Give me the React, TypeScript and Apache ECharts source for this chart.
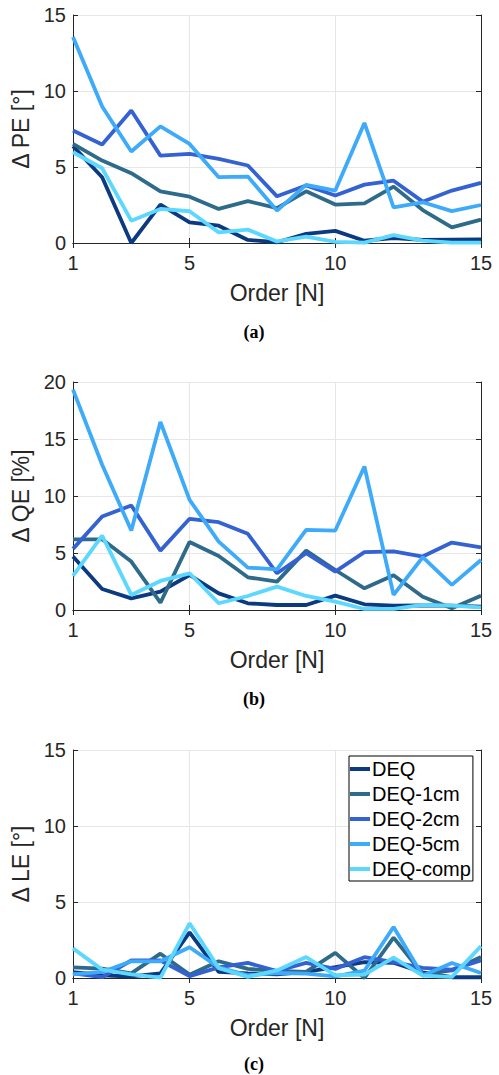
import React, { useEffect, useRef } from "react";
import * as echarts from "echarts";

const orders = ["1", "2", "3", "4", "5", "6", "7", "8", "9", "10", "11", "12", "13", "14", "15"];
const seriesNames = ["DEQ", "DEQ-1cm", "DEQ-2cm", "DEQ-5cm", "DEQ-comp"];
const seriesColors = ["#0B3A80", "#2E6A8A", "#3462D2", "#3DAAFA", "#5CD8FF"];
const labelIdx = [0, 4, 9, 14];
const gridIdx = [4, 9];

const peDEQ = [6.37, 4.33, 0.0, 2.53, 1.36, 1.14, 0.2, 0.05, 0.6, 0.8, 0.15, 0.33, 0.2, 0.22, 0.24];
const pe1cm = [6.52, 5.42, 4.59, 3.4, 3.05, 2.24, 2.75, 2.3, 3.4, 2.53, 2.61, 3.71, 2.17, 1.03, 1.54];
const pe2cm = [7.4, 6.48, 8.72, 5.75, 5.86, 5.53, 5.1, 3.07, 3.78, 3.12, 3.84, 4.1, 2.72, 3.45, 3.95];
const pe5cm = [13.55, 8.98, 6.02, 7.67, 6.52, 4.33, 4.37, 2.13, 3.82, 3.45, 7.9, 2.35, 2.68, 2.1, 2.5];
const peComp = [5.97, 4.92, 1.47, 2.24, 2.09, 0.7, 0.88, 0.1, 0.42, 0.08, 0.02, 0.52, 0.15, 0.02, 0.02];

const qeDEQ = [4.69, 1.84, 1.02, 1.61, 3.07, 1.46, 0.59, 0.44, 0.44, 1.26, 0.5, 0.38, 0.41, 0.38, 0.29];
const qe1cm = [6.2, 6.2, 4.25, 0.64, 5.97, 4.74, 2.87, 2.49, 5.21, 3.51, 1.9, 3.05, 1.17, 0.15, 1.26];
const qe2cm = [5.36, 8.2, 9.17, 5.21, 8.0, 7.7, 6.68, 3.22, 4.98, 3.37, 5.07, 5.15, 4.69, 5.92, 5.5];
const qe5cm = [19.33, 12.74, 6.97, 16.49, 9.66, 6.0, 3.72, 3.57, 7.03, 6.97, 12.59, 1.32, 4.63, 2.2, 4.39];
const qeComp = [2.99, 6.53, 1.32, 2.55, 3.22, 0.59, 1.23, 2.05, 1.23, 0.73, 0.09, 0.09, 0.44, 0.38, 0.23];

const leDEQ = [0.38, 0.18, 0.1, 0.3, 3.0, 0.4, 0.3, 0.24, 0.4, 0.72, 1.05, 1.0, 0.37, 0.05, 0.05];
const le1cm = [0.7, 0.62, 0.3, 1.6, 0.22, 1.1, 0.6, 0.46, 0.4, 1.65, 0.0, 2.66, 0.26, 0.5, 1.38];
const le2cm = [0.3, 0.05, 1.15, 1.15, 0.12, 0.7, 0.99, 0.46, 0.99, 0.6, 1.37, 1.05, 0.66, 0.55, 1.15];
const le5cm = [0.24, 0.4, 1.1, 1.1, 2.02, 0.7, 0.18, 0.33, 0.29, 0.1, 0.48, 3.36, 0.15, 0.99, 0.33];
const leComp = [1.95, 0.55, 0.24, 0.02, 3.6, 0.65, 0.07, 0.5, 1.38, 0.18, 0.22, 1.34, 0.15, 0.07, 2.1];

const yTitles = ["\u0394 PE [\u00B0]", "\u0394 QE [%]", "\u0394 LE [\u00B0]"];
const yMaxes = [15, 20, 15];
const captions = ["(a)", "(b)", "(c)"];
const panelData = [
  [peDEQ, pe1cm, pe2cm, pe5cm, peComp],
  [qeDEQ, qe1cm, qe2cm, qe5cm, qeComp],
  [leDEQ, le1cm, le2cm, le5cm, leComp],
];

const FONT = "Liberation Sans";
const AX = "#262626";
const GRIDC = "#e6e6e6";
const panelTops = [15, 382, 750];
const panelH = 228;
const captionY = [332, 699, 1064];

export default function App() {
  const ref = useRef<HTMLDivElement>(null);
  useEffect(() => {
    document.body.style.margin = "0";
    if (!ref.current) return;
    const chart = echarts.init(ref.current, undefined, { renderer: "svg" });
    const grids: any[] = [];
    const xAxes: any[] = [];
    const yAxes: any[] = [];
    const series: any[] = [];
    const graphics: any[] = [];
    for (let p = 0; p < 3; p++) {
      grids.push({ left: 73, top: panelTops[p], width: 408, height: panelH, containLabel: false });
      xAxes.push({
        type: "category",
        gridIndex: p,
        data: orders,
        boundaryGap: false,
        position: "bottom",
        axisLine: { show: true, lineStyle: { color: AX, width: 1 } },
        axisTick: { show: true, inside: true, length: 5, lineStyle: { color: AX }, interval: (i: number) => labelIdx.includes(i) },
        axisLabel: { interval: (i: number) => labelIdx.includes(i), fontSize: 20, color: AX, fontFamily: FONT, margin: 10 },
        splitLine: { show: true, interval: (i: number) => gridIdx.includes(i), lineStyle: { color: GRIDC, width: 1 } },
        name: "Order [N]",
        nameLocation: "middle",
        nameGap: 38,
        nameTextStyle: { fontSize: 23, color: AX, fontFamily: FONT },
      });
      xAxes.push({
        type: "category",
        gridIndex: p,
        data: orders,
        boundaryGap: false,
        position: "top",
        axisLine: { show: true, lineStyle: { color: AX, width: 1 } },
        axisTick: { show: true, inside: true, length: 5, lineStyle: { color: AX }, interval: (i: number) => labelIdx.includes(i) },
        axisLabel: { show: false },
        splitLine: { show: false },
      });
      yAxes.push({
        type: "value",
        gridIndex: p,
        min: 0,
        max: yMaxes[p],
        interval: 5,
        position: "left",
        axisLine: { show: true, lineStyle: { color: AX, width: 1 } },
        axisTick: { show: true, inside: true, length: 5, lineStyle: { color: AX } },
        axisLabel: { fontSize: 20, color: AX, fontFamily: FONT, margin: 7 },
        splitLine: { show: true, lineStyle: { color: GRIDC, width: 1 } },
        name: yTitles[p],
        nameLocation: "middle",
        nameRotate: 90,
        nameGap: 35,
        nameTextStyle: { fontSize: 23, color: AX, fontFamily: FONT },
      });
      yAxes.push({
        type: "value",
        gridIndex: p,
        min: 0,
        max: yMaxes[p],
        interval: 5,
        position: "right",
        axisLine: { show: true, lineStyle: { color: AX, width: 1 } },
        axisTick: { show: true, inside: true, length: 5, lineStyle: { color: AX } },
        axisLabel: { show: false },
        splitLine: { show: false },
      });
      for (let s = 0; s < 5; s++) {
        series.push({
          type: "line",
          name: seriesNames[s],
          xAxisIndex: p * 2,
          yAxisIndex: p * 2,
          data: panelData[p][s],
          symbol: "none",
          showSymbol: false,
          color: seriesColors[s],
          lineStyle: { width: 3.8, color: seriesColors[s] },
          clip: false,
        });
      }
      graphics.push({
        type: "text",
        x: 254,
        y: captionY[p],
        style: {
          text: captions[p],
          font: 'bold 18px "Liberation Serif"',
          fill: "#000",
          textAlign: "center",
          textVerticalAlign: "middle",
        },
      });
    }
    chart.setOption({
      animation: false,
      backgroundColor: "#fff",
      grid: grids,
      xAxis: xAxes,
      yAxis: yAxes,
      series,
      graphic: graphics,
      legend: {
        data: seriesNames,
        orient: "vertical",
        left: 349,
        top: 756,
        icon: "rect",
        itemWidth: 20,
        itemHeight: 4,
        itemGap: 5,
        padding: [3, 2, 2, 1],
        borderColor: "#000",
        borderWidth: 1,
        backgroundColor: "#fff",
        textStyle: { fontSize: 20, color: "#000", fontFamily: FONT, lineHeight: 20, padding: [0, 0, 0, -3] },
      },
    });
    return () => chart.dispose();
  }, []);
  return <div ref={ref} style={{ width: 499, height: 1075 }} />;
}
